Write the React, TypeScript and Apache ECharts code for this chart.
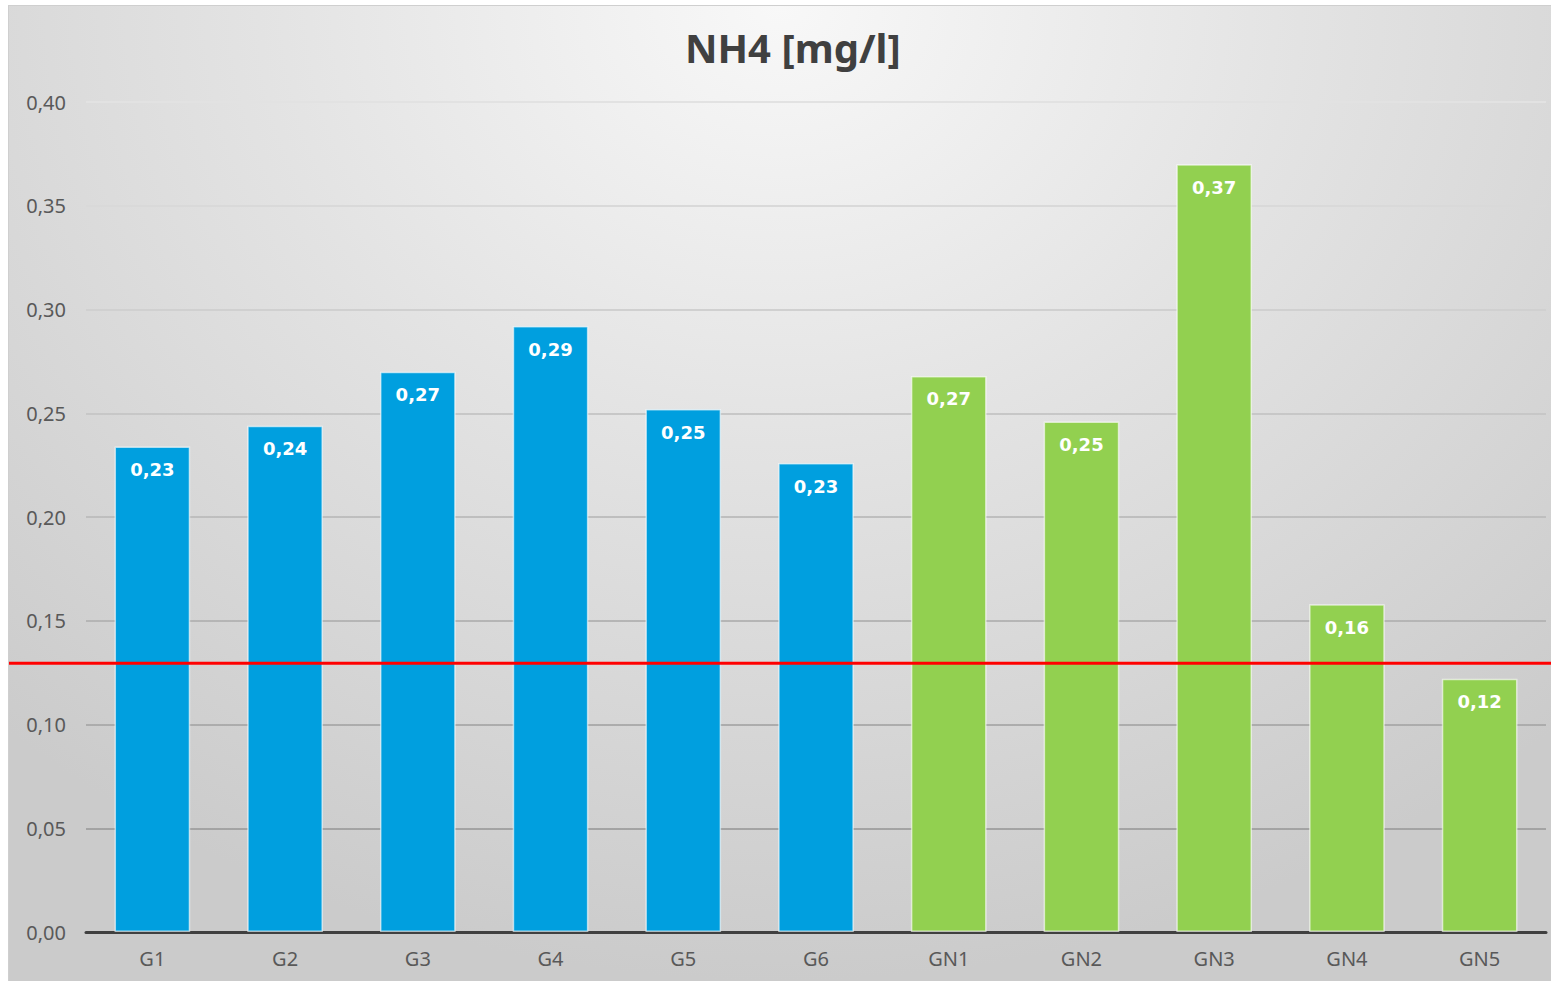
import React, { useEffect, useRef } from "react";
import * as echarts from "echarts";

const categories = ["G1", "G2", "G3", "G4", "G5", "G6", "GN1", "GN2", "GN3", "GN4", "GN5"];
const values = [0.234, 0.244, 0.270, 0.292, 0.252, 0.226, 0.268, 0.246, 0.370, 0.158, 0.122];
const groups = ["G", "G", "G", "G", "G", "G", "GN", "GN", "GN", "GN", "GN"];
const limitValue = 0.1295;
const yTicks = { min: 0, max: 0.4, interval: 0.05 };

const groupColors: Record<string, string> = { G: "#009FDF", GN: "#92D050" };
const fmt = (v: number) => v.toFixed(2).replace(".", ",");

export default function App() {
  const ref = useRef<HTMLDivElement>(null);
  useEffect(() => {
    if (!ref.current) return;
    const chart = echarts.init(ref.current, undefined, { renderer: "svg" });
    const font = "'Noto Sans', sans-serif";
    chart.setOption({
      animation: false,
      title: {
        text: "NH4 [mg/l]",
        left: 671,
        top: 16,
        textStyle: { fontFamily: font, fontSize: 40, fontWeight: "bold", color: "#404040" },
      },
      grid: { left: 77, right: 5, top: 96, bottom: 49, containLabel: false },
      xAxis: {
        type: "category",
        data: categories,
        axisLine: { lineStyle: { color: "#404040", width: 3 } },
        axisTick: { show: false },
        axisLabel: { fontFamily: font, fontSize: 20, color: "#595959", margin: 16 },
      },
      yAxis: {
        type: "value",
        min: yTicks.min,
        max: yTicks.max,
        interval: yTicks.interval,
        axisLine: { show: false },
        axisTick: { show: false },
        axisLabel: { fontFamily: font, fontSize: 20, color: "#595959", margin: 20, formatter: (v: number) => fmt(v) },
        splitLine: {
          lineStyle: {
            width: 2,
            color: new echarts.graphic.LinearGradient(0, 96, 0, 930, [
              { offset: 0, color: "#e2e2e2" },
              { offset: 1, color: "#9a9a9a" },
            ], true),
          },
        },
      },
      series: [
        {
          type: "bar",
          data: values.map((v, i) => ({
            value: v,
            itemStyle: { color: groupColors[groups[i]] },
          })),
          barCategoryGap: "43%",
          itemStyle: { borderColor: "rgba(255,255,255,0.6)", borderWidth: 1.5 },
          label: {
            show: true,
            position: "insideTop",
            distance: 14,
            color: "#ffffff",
            fontFamily: "'DejaVu Sans', sans-serif",
            fontWeight: "bold",
            fontSize: 18,
            formatter: (p: any) => fmt(p.value),
          },
        },
      ],
    });
    const y = chart.convertToPixel({ gridIndex: 0 }, [0, limitValue])[1];
    const w = chart.getWidth();
    chart.setOption({
      graphic: [
        {
          type: "line",
          z: 100,
          shape: { x1: 0, y1: y, x2: w, y2: y },
          style: { stroke: "#FF0000", lineWidth: 3 },
        },
      ],
    });
    return () => chart.dispose();
  }, []);
  return (
    <div
      ref={ref}
      style={{
        position: "absolute",
        left: 8,
        top: 5,
        width: 1543,
        height: 976,
        boxSizing: "border-box",
        borderTop: "1px solid #cfcfcf",
        borderLeft: "1px solid #cfcfcf",
        background: "radial-gradient(ellipse 75% 100% at 50% 0%, #f8f8f8 0%, #e3e3e3 45%, #cbcbcb 100%)",
      }}
    />
  );
}
